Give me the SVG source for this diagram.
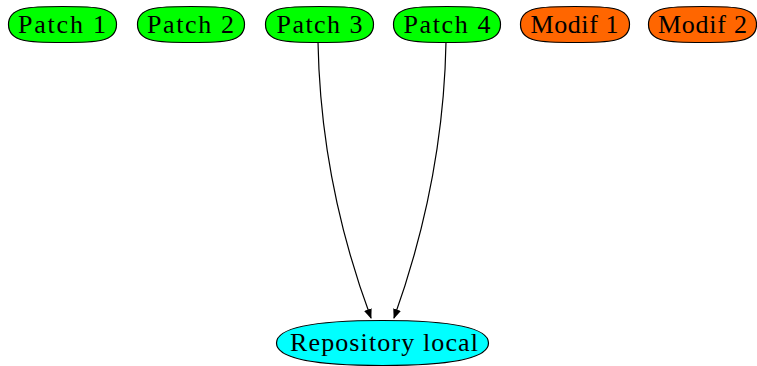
<svg xmlns="http://www.w3.org/2000/svg" width="757" height="366" viewBox="0 0 757 366">
<defs>
<style>
.n{stroke:#000;stroke-width:1.2}
.p{fill:#00ff00}
.m{fill:#ff6600}
.r{fill:#00ffff}
text{font-family:"Liberation Serif","Times New Roman",serif;font-size:26px;fill:#000;text-anchor:middle}
.e{fill:none;stroke:#000;stroke-width:1.2}
</style>
<marker id="a" markerWidth="10" markerHeight="10" refX="9" refY="5" orient="auto" markerUnits="userSpaceOnUse">
<path d="M0,1 L10,5 L0,9 Z" fill="#000"/>
</marker>
</defs>
<g id="edges">
<path class="e" d="M318,42 C320,150 342,240 371,318" marker-end="url(#a)"/>
<path class="e" d="M446,42 C444,150 422,240 394,318" marker-end="url(#a)"/>
</g>
<g id="patch1"><path class="n p" d="M8.5,24.5 C8.5,6.5 30,6.5 62.5,6.5 C95,6.5 116.5,6.5 116.5,24.5 C116.5,42.5 95,42.5 62.5,42.5 C30,42.5 8.5,42.5 8.5,24.5 Z"/><text x="62" y="33" textLength="88" lengthAdjust="spacing">Patch 1</text></g>
<g id="patch2"><path class="n p" d="M137.5,24.5 C137.5,6.5 159,6.5 191,6.5 C223,6.5 244.5,6.5 244.5,24.5 C244.5,42.5 223,42.5 191,42.5 C159,42.5 137.5,42.5 137.5,24.5 Z"/><text x="190.5" y="33" textLength="87" lengthAdjust="spacing">Patch 2</text></g>
<g id="patch3"><path class="n p" d="M265.5,24.5 C265.5,6.5 287,6.5 319.5,6.5 C352,6.5 373.5,6.5 373.5,24.5 C373.5,42.5 352,42.5 319.5,42.5 C287,42.5 265.5,42.5 265.5,24.5 Z"/><text x="319.5" y="33" textLength="86" lengthAdjust="spacing">Patch 3</text></g>
<g id="patch4"><path class="n p" d="M393.5,24.5 C393.5,6.5 415,6.5 447,6.5 C479,6.5 500.5,6.5 500.5,24.5 C500.5,42.5 479,42.5 447,42.5 C415,42.5 393.5,42.5 393.5,24.5 Z"/><text x="447" y="33" textLength="87" lengthAdjust="spacing">Patch 4</text></g>
<g id="modif1"><path class="n m" d="M520.5,24.5 C520.5,6.5 542,6.5 575,6.5 C608,6.5 629.5,6.5 629.5,24.5 C629.5,42.5 608,42.5 575,42.5 C542,42.5 520.5,42.5 520.5,24.5 Z"/><text x="574.5" y="33" textLength="88" lengthAdjust="spacing">Modif 1</text></g>
<g id="modif2"><path class="n m" d="M648.5,24.5 C648.5,6.5 670,6.5 702.5,6.5 C735,6.5 756.5,6.5 756.5,24.5 C756.5,42.5 735,42.5 702.5,42.5 C670,42.5 648.5,42.5 648.5,24.5 Z"/><text x="702.5" y="33" textLength="89" lengthAdjust="spacing">Modif 2</text></g>
<g id="repo"><path class="n r" d="M276.5,343 C276.5,325 330,320.5 382.5,320.5 C435,320.5 488.5,325 488.5,343 C488.5,361 435,365.5 382.5,365.5 C330,365.5 276.5,361 276.5,343 Z"/><text x="384" y="351" textLength="188" lengthAdjust="spacing">Repository local</text></g>
</svg>
